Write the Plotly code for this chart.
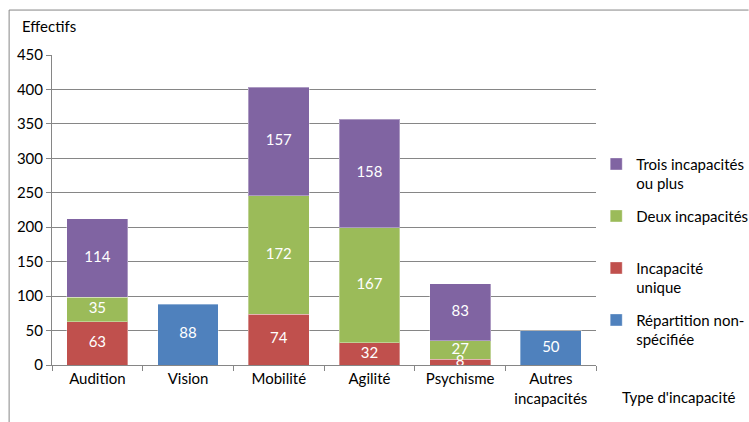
import plotly.graph_objects as go

categories = ["Audition", "Vision", "Mobilité", "Agilité", "Psychisme", "Autres<br>incapacités"]
repartition_non_specifiee = [None, 88, None, None, None, 50]
incapacite_unique = [63, None, 74, 32, 8, None]
deux_incapacites = [35, None, 172, 167, 27, None]
trois_incapacites = [114, None, 157, 158, 83, None]

series = [
    ("Répartition non-<br>spécifiée", repartition_non_specifiee, "#4F81BD", 4),
    ("Incapacité<br>unique", incapacite_unique, "#C0504D", 3),
    ("Deux incapacités<br>\u00a0", deux_incapacites, "#9BBB59", 2),
    ("Trois incapacités<br>ou plus", trois_incapacites, "#8064A2", 1),
]

FONT = "Lato"
GRID = "#868686"
FS = 15

fig = go.Figure()
base = [0] * len(categories)
for i, (name, vals, col, rank) in enumerate(series):
    fig.add_trace(go.Bar(
        x=categories, y=vals, name=name,
        marker=dict(color=col, line=dict(color="rgba(255,255,255,0.35)", width=1)),
        legendgroup=f"g{rank}", legendrank=rank,
    ))
    mids, texts, xs = [], [], []
    for j, v in enumerate(vals):
        if v is None:
            continue
        xs.append(categories[j])
        mids.append(base[j] + v / 2)
        texts.append(str(v))
        base[j] += v
    fig.add_trace(go.Scatter(
        x=xs, y=mids, text=texts, mode="text", showlegend=False, hoverinfo="skip",
        textfont=dict(color="white", size=FS, family=FONT), cliponaxis=False,
    ))

fig.update_layout(
    width=749, height=422,
    margin=dict(l=52, r=151, t=55, b=57),
    barmode="stack", bargap=0.33,
    plot_bgcolor="white", paper_bgcolor="white",
    font=dict(family=FONT, size=FS, color="#000000"),
    legend=dict(
        xref="container", yref="container",
        x=0.796, y=0.65, xanchor="left", yanchor="top",
        traceorder="grouped", tracegroupgap=10, valign="top",
        font=dict(size=FS, family=FONT), itemwidth=30,
    ),
    xaxis=dict(
        showline=True, linecolor=GRID, linewidth=1, ticks="outside", tickson="boundaries",
        ticklen=5, tickcolor=GRID, tickfont=dict(size=FS), automargin=False,
    ),
    yaxis=dict(
        range=[0, 450], dtick=50, showgrid=True, gridcolor=GRID, gridwidth=1,
        showline=True, linecolor=GRID, linewidth=1, ticks="outside", ticklen=5, tickcolor=GRID,
        zeroline=False, tickfont=dict(size=FS), automargin=False,
    ),
    annotations=[
        dict(text="Effectifs", xref="paper", yref="paper", x=-0.058, y=1.093, xanchor="left", yanchor="middle",
             showarrow=False, font=dict(size=FS)),
        dict(text="Type d'incapacité", xref="paper", yref="paper", x=1.044, y=-0.103, xanchor="left", yanchor="middle",
             showarrow=False, font=dict(size=FS)),
    ],
    shapes=[
        dict(type="line", xref="paper", yref="paper", x0=-0.0788, x1=1.28, y0=1.145, y1=1.145,
             line=dict(color=GRID, width=1)),
        dict(type="line", xref="paper", yref="paper", x0=-0.0788, x1=-0.0788, y0=1.145, y1=-0.2,
             line=dict(color=GRID, width=1)),
    ],
)

fig.write_html("out.html", config={"displayModeBar": False},
               post_script="document.body.style.margin='0';")
